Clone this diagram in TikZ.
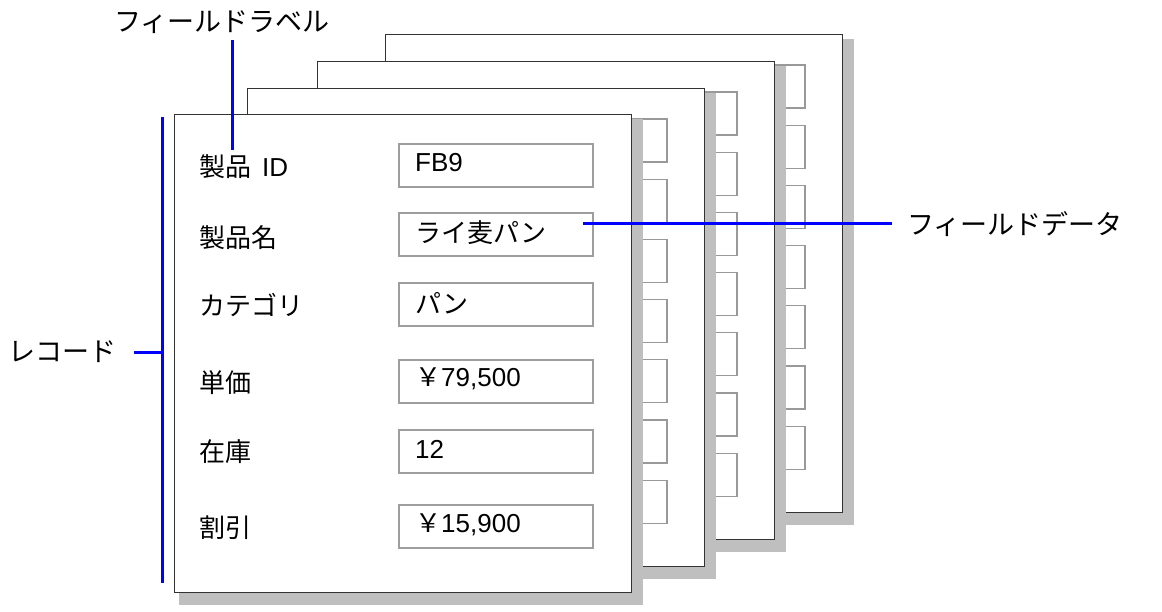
\documentclass[tikz,border=0pt]{standalone}
\usepackage{fontspec}
\setmainfont{Noto Sans CJK JP}
\newfontfamily\lat{Liberation Sans}
\begin{document}
\begin{tikzpicture}[x=1pt,y=-1pt,
  pageshadow/.style={fill=black!25, draw=none},
  pagebox/.style={fill=white, draw=black!80, line width=1pt},
  fieldbox/.style={draw=black!40, line width=1.2pt, fill=white},
  valbox/.style={draw=black!38, line width=1.2pt, fill=white, minimum width=194pt, minimum height=43pt, inner sep=0pt},
  lbl/.style={anchor=west, inner sep=0pt, font=\fontsize{26}{30}\selectfont},
  calltext/.style={inner sep=0pt, font=\fontsize{27}{30}\selectfont},
  blueline/.style={draw=blue, line width=3pt}]
\useasboundingbox (0,0) rectangle (1162,612);
% back pages
\foreach \px/\py in {385/35, 317/62, 247/89} {
  \fill[pageshadow] (\px+5,\py+4) rectangle (\px+469,\py+490);
  \draw[pagebox] (\px,\py) rectangle (\px+457,\py+477);
  \foreach \k in {0,...,6}
    \draw[fieldbox] (\px+225,\py+30+60.2*\k) rectangle (\px+420,\py+73+60.2*\k);
}
% front page
\fill[pageshadow] (179,119) rectangle (643,605);
\draw[pagebox] (174,115) rectangle (631,592);
\node[valbox] (v1) at (496,165.5) {};
\node[valbox] (v2) at (496,234.5) {};
\node[valbox] (v3) at (496,304.5) {};
\node[valbox] (v4) at (496,381.5) {};
\node[valbox] (v5) at (496,451.5) {};
\node[valbox] (v6) at (496,526.5) {};
\node[lbl] (t1) at (415,163) {{\lat FB9}};
\node[lbl] (t2) at (415,233) {ライ麦パン};
\node[lbl] (t3) at (415,303) {パン};
\node[lbl] (t4) at (415,379) {￥{\lat 79,500}};
\node[lbl] (t5) at (415,449) {{\lat 12}};
\node[lbl] (t6) at (415,525) {￥{\lat 15,900}};
\node[lbl] (l1) at (199,167) {製品\hspace{11pt}{\lat ID}};
\node[lbl] (l2) at (199,238) {製品名};
\node[lbl] (l3) at (199,305) {カテゴリ};
\node[lbl] (l4) at (199,383) {単価};
\node[lbl] (l5) at (199,452) {在庫};
\node[lbl] (l6) at (199,528) {割引};
% callouts
\node[calltext] (cFL) at (222,22) {フィールドラベル};
\coordinate (flA) at (232,40);
\coordinate (flB) at (232,150);
\draw[blueline] (flA) -- (flB);
\node[calltext, anchor=west] (cFD) at (907,224) {フィールドデータ};
\coordinate (fdA) at (583,224);
\coordinate (fdB) at (892,224);
\draw[blueline] (fdA) -- (fdB);
\node[calltext, anchor=west] (cRec) at (8,352) {レコード};
\coordinate (rA) at (162,117);
\coordinate (rB) at (162,583);
\coordinate (rM) at (162,352);
\coordinate (rT) at (134,352);
\draw[blueline] (rA) -- (rB);
\draw[blueline] (rT) -- (rM);
\end{tikzpicture}
\end{document}
